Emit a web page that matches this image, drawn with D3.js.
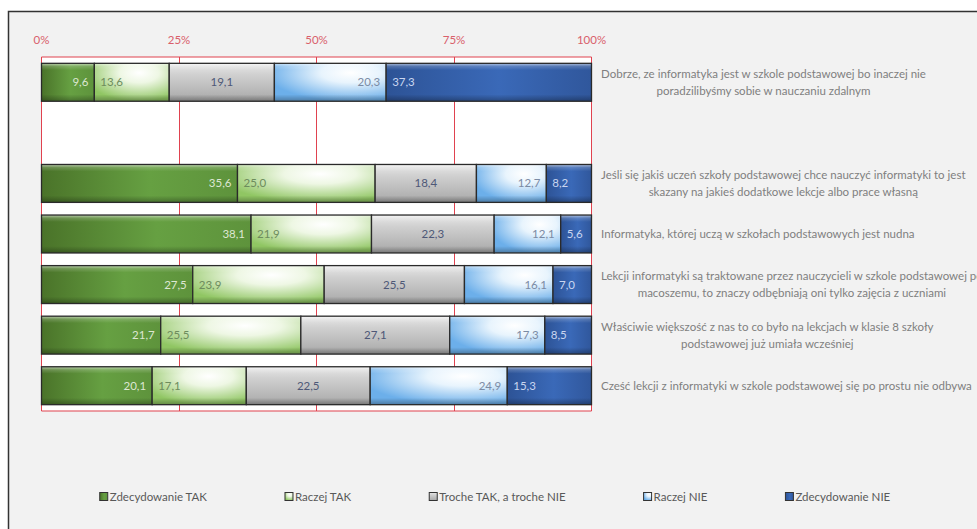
<!DOCTYPE html>
<html>
<head>
<meta charset="utf-8">
<script src="https://cdn.jsdelivr.net/npm/d3@7"></script>
<style>
  html, body { margin: 0; padding: 0; background: #ffffff; }
  svg { display: block; font-family: Lato, "Open Sans", sans-serif; }
</style>
</head>
<body>
<svg id="chart" width="977" height="529"></svg>
<script>
// Statements (top to bottom); the empty entry leaves a blank row in the plot
const categories = [
  "Dobrze, ze informatyka jest w szkole podstawowej bo inaczej nie\nporadzilibyśmy sobie w nauczaniu zdalnym",
  "",
  "Jeśli się jakiś uczeń szkoły podstawowej chce nauczyć informatyki to jest\nskazany na jakieś dodatkowe lekcje albo prace własną",
  "Informatyka, której uczą w szkołach podstawowych jest nudna",
  "Lekcji informatyki są traktowane przez nauczycieli w szkole podstawowej po\nmacoszemu, to znaczy odbębniają oni tylko zajęcia z uczniami",
  "Właściwie większość z nas to co było na lekcjach w klasie 8 szkoły\npodstawowej już umiała wcześniej",
  "Cześć lekcji z informatyki w szkole podstawowej się po prostu nie odbywa"
];

const seriesNames = ["Zdecydowanie TAK", "Raczej TAK", "Troche TAK, a troche NIE", "Raczej NIE", "Zdecydowanie NIE"];

// Answer shares in percent, one array per answer, in category order
const zdecydowanieTak = [9.6, null, 35.6, 38.1, 27.5, 21.7, 20.1];
const raczejTak       = [13.6, null, 25.0, 21.9, 23.9, 25.5, 17.1];
const trocheTakNie    = [19.1, null, 18.4, 22.3, 25.5, 27.1, 22.5];
const raczejNie       = [20.3, null, 12.7, 12.1, 16.1, 17.3, 24.9];
const zdecydowanieNie = [37.3, null, 8.2, 5.6, 7.0, 8.5, 15.3];

const axisTicks = [0, 0.25, 0.5, 0.75, 1];

const seriesValues = [zdecydowanieTak, raczejTak, trocheTakNie, raczejNie, zdecydowanieNie];
const keys = ["s0", "s1", "s2", "s3", "s4"];
const rows = categories.map((c, i) => {
  const r = { cat: c, idx: i };
  keys.forEach((k, j) => r[k] = seriesValues[j][i] == null ? 0 : seriesValues[j][i]);
  return r;
});

const svg = d3.select("#chart");
const W = 977, H = 529;
const plot = { left: 41.5, right: 591.5, top: 57, bottom: 411 };

// ---------- gradients ----------
const defs = svg.append("defs");

function linear(id, stops, x2, y2) {
  const g = defs.append("linearGradient").attr("id", id)
    .attr("x1", 0).attr("y1", 0).attr("x2", x2).attr("y2", y2);
  stops.forEach(([o, c]) => g.append("stop").attr("offset", o).attr("stop-color", c));
}
function radial(id, cx, cy, r, stops) {
  const g = defs.append("radialGradient").attr("id", id)
    .attr("cx", cx).attr("cy", cy).attr("r", r).attr("fx", cx).attr("fy", cy);
  stops.forEach(([o, c]) => g.append("stop").attr("offset", o).attr("stop-color", c));
}

linear("g0", [[0, "#4a7329"], [0.55, "#66a042"], [1, "#5e933c"]], 1, 0);
radial("g1", "60%", "25%", "75%", [[0, "#ffffff"], [0.35, "#eef7e4"], [1, "#90c663"]]);
linear("g2", [[0, "#e8e8e8"], [0.3, "#d0d0d0"], [1, "#a8a8a8"]], 0, 1);
radial("g3", "68%", "25%", "75%", [[0, "#ffffff"], [0.35, "#e8f4fd"], [1, "#6cafea"]]);
linear("g4", [[0, "#2d5396"], [0.55, "#3a69b8"], [1, "#30579c"]], 1, 0);

// bevel: light top edge, shaded bottom edge
linear("bevel", [[0, "rgba(255,255,255,0.6)"], [0.08, "rgba(255,255,255,0.18)"], [0.18, "rgba(255,255,255,0)"],
                 [0.82, "rgba(0,0,0,0)"], [1, "rgba(0,0,0,0.3)"]], 0, 1);

const fills = keys.map((k, i) => `url(#g${i})`);

// ---------- chart frame ----------
svg.append("rect")
  .attr("x", 8.5).attr("y", 11.5).attr("width", W + 10).attr("height", H + 10)
  .attr("fill", "#f2f2f2").attr("stroke", "#333333").attr("stroke-width", 1.5);

// ---------- scales ----------
const x = d3.scaleLinear().domain([0, 1]).range([plot.left, plot.right]);
const y = d3.scaleBand().domain(d3.range(categories.length))
  .range([plot.top, plot.bottom]).paddingInner(0.25).paddingOuter(0.125);

svg.append("rect")
  .attr("x", plot.left).attr("y", plot.top)
  .attr("width", plot.right - plot.left).attr("height", plot.bottom - plot.top)
  .attr("fill", "#ffffff");

// ---------- gridlines and percent axis ----------
const gridColor = "#e0424f";
const axis = d3.axisTop(x).tickValues(axisTicks)
  .tickFormat(d3.format(".0%"))
  .tickSizeInner(-(plot.bottom - plot.top)).tickSizeOuter(0).tickPadding(13).offset(0);

const ax = svg.append("g").attr("transform", `translate(0,${plot.top})`).call(axis);
ax.select(".domain").remove();
ax.selectAll(".tick line").attr("stroke", gridColor).attr("stroke-width", 1)
  .attr("shape-rendering", "crispEdges");
ax.selectAll(".tick text")
  .attr("fill", "#d9606b").attr("font-size", 11.5)
  .attr("font-family", "Lato, 'Open Sans', sans-serif");

[plot.top, plot.bottom].forEach(yy => {
  svg.append("line")
    .attr("x1", plot.left).attr("x2", plot.right).attr("y1", yy).attr("y2", yy)
    .attr("stroke", gridColor).attr("stroke-width", 1.2);
});

// ---------- stacked bars (100%) ----------
const stack = d3.stack().keys(keys).offset(d3.stackOffsetExpand);
const drawnRows = rows.filter(r => keys.some(k => r[k] > 0));
const stacked = stack(drawnRows);

const fmt = v => d3.format(".1f")(v).replace(".", ",");

const labelStyle = [
  { pos: "end",    color: "#dde7d2" },
  { pos: "start",  color: "#6d8c5c" },
  { pos: "middle", color: "#4e5877" },
  { pos: "end",    color: "#7b8ba4" },
  { pos: "start",  color: "#c9d6f0" }
];

const layers = svg.append("g").selectAll("g.layer").data(stacked).join("g").attr("class", "layer");

layers.each(function (layer, li) {
  const g = d3.select(this);
  const segs = g.selectAll("g.seg").data(layer).join("g").attr("class", "seg");

  segs.append("rect")
    .attr("x", d => x(d[0])).attr("y", d => y(d.data.idx))
    .attr("width", d => x(d[1]) - x(d[0])).attr("height", y.bandwidth())
    .attr("fill", fills[li]);

  segs.append("rect")
    .attr("x", d => x(d[0])).attr("y", d => y(d.data.idx))
    .attr("width", d => x(d[1]) - x(d[0])).attr("height", y.bandwidth())
    .attr("fill", "url(#bevel)")
    .attr("stroke", "#2a2a2a").attr("stroke-width", 1.3);

  const st = labelStyle[li];
  segs.append("text")
    .attr("x", d => st.pos === "end" ? x(d[1]) - 6 : st.pos === "start" ? x(d[0]) + 6 : (x(d[0]) + x(d[1])) / 2)
    .attr("y", d => y(d.data.idx) + y.bandwidth() / 2)
    .attr("dy", "0.35em")
    .attr("text-anchor", st.pos)
    .attr("font-size", 11.5)
    .attr("fill", st.color)
    .text(d => fmt(d.data[layer.key]));
});

// ---------- category labels on the right ----------
const catG = svg.append("g");
const lineH = 17;
categories.forEach((c, i) => {
  if (!c) return;
  const lines = c.split("\n");
  const cy = y(i) + y.bandwidth() / 2;
  const t = catG.append("text")
    .attr("font-size", 11.5).attr("fill", "#7f7f7f");
  const spans = lines.map((ln, j) => t.append("tspan")
    .attr("y", cy + (j - (lines.length - 1) / 2) * lineH)
    .attr("dy", "0.35em").text(ln));
  const widths = spans.map(s => s.node().getComputedTextLength());
  const wMax = d3.max(widths);
  const left = 601;
  spans.forEach(s => s.attr("x", left + wMax / 2).attr("text-anchor", "middle"));
});

// ---------- legend ----------
const legend = svg.append("g");
const legY = 497;
const items = seriesNames.map((n, i) => {
  const g = legend.append("g");
  g.append("rect").attr("x", 0).attr("y", legY - 4.5).attr("width", 8).attr("height", 8)
    .attr("fill", fills[i]).attr("stroke", "#333").attr("stroke-width", 1);
  const t = g.append("text").attr("x", 10).attr("y", legY).attr("dy", "0.35em")
    .attr("font-size", 11.5).attr("fill", "#595959").text(n);
  return { g, w: 10 + t.node().getComputedTextLength() };
});
const gap = 78;
const total = d3.sum(items, d => d.w) + gap * (items.length - 1);
let lx = 495 - total / 2;
items.forEach(it => { it.g.attr("transform", `translate(${lx},0)`); lx += it.w + gap; });
</script>
</body>
</html>
